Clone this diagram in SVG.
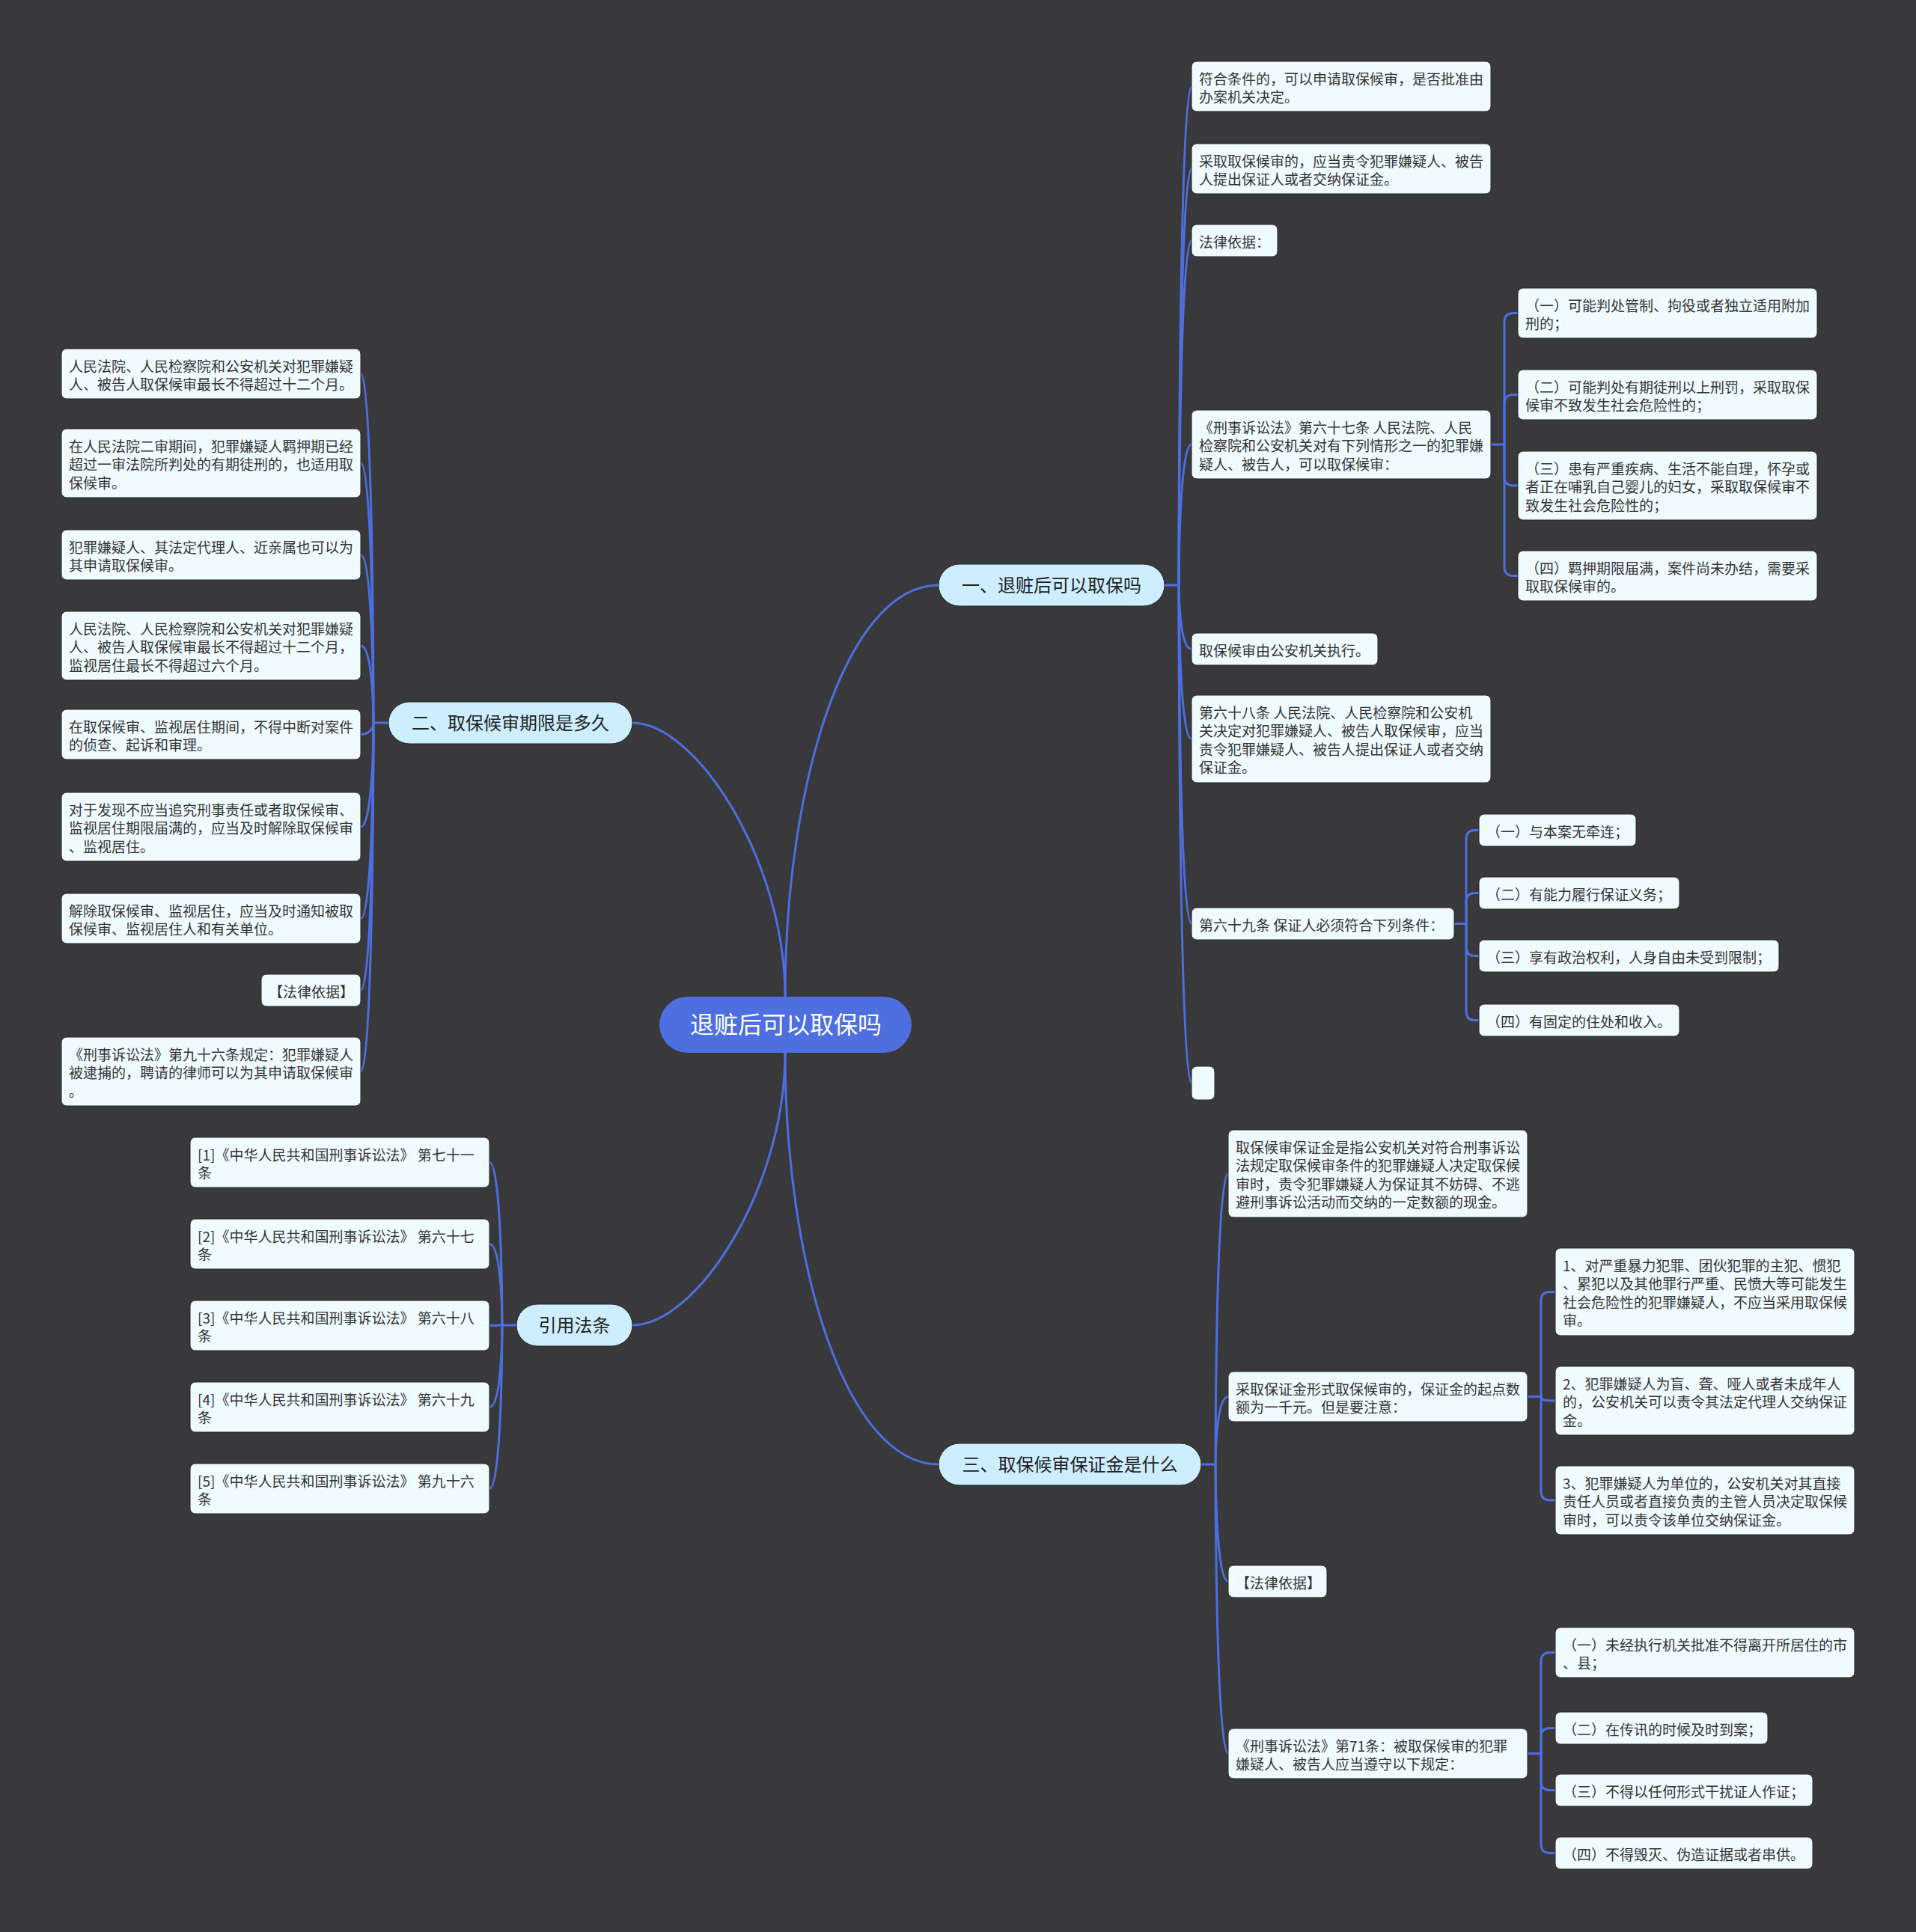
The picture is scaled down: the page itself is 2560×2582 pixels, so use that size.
<svg xmlns="http://www.w3.org/2000/svg" width="2560" height="2582" viewBox="0 0 2560 2582">
<style>
.bg{fill:#39383b}
.c{fill:none;stroke:#4d6fe0;stroke-width:3;stroke-linecap:round}
.leaf{fill:#f0fbff;stroke:#262626;stroke-width:1}
.br{fill:#cdeefe;stroke:#262626;stroke-width:1}
.root{fill:#4d6fe0}
.t{font-family:"Noto Sans CJK SC","Noto Sans",sans-serif;font-size:19px;fill:#333}
.bt{font-family:"Noto Sans CJK SC","Noto Sans",sans-serif;font-size:24px;fill:#222;text-anchor:middle}
.rt{font-family:"Noto Sans CJK SC","Noto Sans",sans-serif;font-size:32px;fill:#fff;text-anchor:middle}
</style>
<rect class="bg" x="0" y="0" width="2560" height="2582"/>
<g id="connectors">
<path class="c" d="M1049,1332 C1049,1050 1130,782 1254,782"/>
<path class="c" d="M1049,1332 C1049,1150 930,966 845,966"/>
<path class="c" d="M1049,1407 C1049,1590 930,1771 845,1771"/>
<path class="c" d="M1049,1407 C1049,1690 1130,1957 1254,1957"/>
<path class="c" d="M1556,782 H1575"/>
<path class="c" d="M1575,782 C1575,782 1575,115.5 1592,115.5"/>
<path class="c" d="M1575,782 C1575,782 1575,225.5 1592,225.5"/>
<path class="c" d="M1575,782 C1575,782 1575,321.5 1592,321.5"/>
<path class="c" d="M1575,782 C1575,782 1575,594 1592,594"/>
<path class="c" d="M1575,782 C1575,782 1575,867.5 1592,867.5"/>
<path class="c" d="M1575,782 C1575,782 1575,987.5 1592,987.5"/>
<path class="c" d="M1575,782 C1575,782 1575,1234.5 1592,1234.5"/>
<path class="c" d="M1575,782 C1575,782 1575,1447.5 1592,1447.5"/>
<path class="c" d="M1992,594 H2010"/>
<path class="c" d="M2010,594 V430.5 Q2010,418.5 2022,418.5 H2028"/>
<path class="c" d="M2010,594 V539.5 Q2010,527.5 2022,527.5 H2028"/>
<path class="c" d="M2010,594 V637 Q2010,649 2022,649 H2028"/>
<path class="c" d="M2010,594 V757.5 Q2010,769.5 2022,769.5 H2028"/>
<path class="c" d="M1943,1234.5 H1959"/>
<path class="c" d="M1959,1234.5 V1121.5 Q1959,1109.5 1971,1109.5 H1976"/>
<path class="c" d="M1959,1234.5 V1205.5 Q1959,1193.5 1971,1193.5 H1976"/>
<path class="c" d="M1959,1234.5 V1265.5 Q1959,1277.5 1971,1277.5 H1976"/>
<path class="c" d="M1959,1234.5 V1351.5 Q1959,1363.5 1971,1363.5 H1976"/>
<path class="c" d="M519,966 H499"/>
<path class="c" d="M499,966 C499,966 499,499.5 482,499.5"/>
<path class="c" d="M499,966 C499,966 499,619 482,619"/>
<path class="c" d="M499,966 C499,966 499,741.5 482,741.5"/>
<path class="c" d="M499,966 C499,966 499,863 482,863"/>
<path class="c" d="M499,966 C499,966 499,981.5 482,981.5"/>
<path class="c" d="M499,966 C499,966 499,1105 482,1105"/>
<path class="c" d="M499,966 C499,966 499,1227.5 482,1227.5"/>
<path class="c" d="M499,966 C499,966 499,1323.5 482,1323.5"/>
<path class="c" d="M499,966 C499,966 499,1432 482,1432"/>
<path class="c" d="M690,1771 H671"/>
<path class="c" d="M671,1771 C671,1771 671,1553.5 654,1553.5"/>
<path class="c" d="M671,1771 C671,1771 671,1662.5 654,1662.5"/>
<path class="c" d="M671,1771 L654,1771.5"/>
<path class="c" d="M671,1771 C671,1771 671,1880.5 654,1880.5"/>
<path class="c" d="M671,1771 C671,1771 671,1989.5 654,1989.5"/>
<path class="c" d="M1605,1957 H1624"/>
<path class="c" d="M1624,1957 C1624,1957 1624,1568.5 1641,1568.5"/>
<path class="c" d="M1624,1957 C1624,1957 1624,1866.5 1641,1866.5"/>
<path class="c" d="M1624,1957 C1624,1957 1624,2113.5 1641,2113.5"/>
<path class="c" d="M1624,1957 C1624,1957 1624,2343.5 1641,2343.5"/>
<path class="c" d="M2041,1866.5 H2059"/>
<path class="c" d="M2059,1866.5 V1738.5 Q2059,1726.5 2071,1726.5 H2078"/>
<path class="c" d="M2059,1866.5 C2059,1872 2065,1872 2078,1872"/>
<path class="c" d="M2059,1866.5 V1993 Q2059,2005 2071,2005 H2078"/>
<path class="c" d="M2041,2343.5 H2059"/>
<path class="c" d="M2059,2343.5 V2220.5 Q2059,2208.5 2071,2208.5 H2078"/>
<path class="c" d="M2059,2343.5 V2321.5 Q2059,2309.5 2071,2309.5 H2078"/>
<path class="c" d="M2059,2343.5 V2380.5 Q2059,2392.5 2071,2392.5 H2078"/>
<path class="c" d="M2059,2343.5 V2464.5 Q2059,2476.5 2071,2476.5 H2078"/>
</g>

<g id="root"><rect class="root" x="881" y="1332" width="337" height="75" rx="37.5"/><text class="rt" x="1050" y="1381">退赃后可以取保吗</text></g>

<g id="b1"><rect class="br" x="1254" y="754" width="302" height="56" rx="28"/><text class="bt" x="1405" y="791">一、退赃后可以取保吗</text></g>
<g id="b2"><rect class="br" x="519" y="938" width="326" height="56" rx="28"/><text class="bt" x="682" y="975">二、取保候审期限是多久</text></g>
<g id="b3"><rect class="br" x="690" y="1743" width="155" height="56" rx="28"/><text class="bt" x="767.5" y="1780">引用法条</text></g>
<g id="b4"><rect class="br" x="1254" y="1929" width="351" height="56" rx="28"/><text class="bt" x="1429.5" y="1966">三、取保候审保证金是什么</text></g>

<g id="n1-1"><rect class="leaf" x="1592" y="82" width="400" height="67" rx="7"/><text class="t" x="1602" y="112.5">符合条件的，可以申请取保候审，是否批准由<tspan x="1602" dy="24.5">办案机关决定。</tspan></text></g>
<g id="n1-2"><rect class="leaf" x="1592" y="192" width="400" height="67" rx="7"/><text class="t" x="1602" y="222.5">采取取保候审的，应当责令犯罪嫌疑人、被告<tspan x="1602" dy="24.5">人提出保证人或者交纳保证金。</tspan></text></g>
<g id="n1-3"><rect class="leaf" x="1592" y="300" width="115" height="43" rx="7"/><text class="t" x="1602" y="330.5">法律依据：</text></g>
<g id="n1-4"><rect class="leaf" x="1592" y="548" width="400" height="92" rx="7"/><text class="t" x="1602" y="578.5">《刑事诉讼法》第六十七条 人民法院、人民<tspan x="1602" dy="24.5">检察院和公安机关对有下列情形之一的犯罪嫌</tspan><tspan x="1602" dy="24.5">疑人、被告人，可以取保候审：</tspan></text></g>
<g id="n1-5"><rect class="leaf" x="1592" y="846" width="249" height="43" rx="7"/><text class="t" x="1602" y="876.5">取保候审由公安机关执行。</text></g>
<g id="n1-6"><rect class="leaf" x="1592" y="929" width="400" height="117" rx="7"/><text class="t" x="1602" y="959.5">第六十八条 人民法院、人民检察院和公安机<tspan x="1602" dy="24.5">关决定对犯罪嫌疑人、被告人取保候审，应当</tspan><tspan x="1602" dy="24.5">责令犯罪嫌疑人、被告人提出保证人或者交纳</tspan><tspan x="1602" dy="24.5">保证金。</tspan></text></g>
<g id="n1-7"><rect class="leaf" x="1592" y="1213" width="351" height="43" rx="7"/><text class="t" x="1602" y="1243.5">第六十九条 保证人必须符合下列条件：</text></g>
<g id="n1-8"><rect class="leaf" x="1592" y="1425" width="31" height="45" rx="7"/></g>

<g id="n1-4-1"><rect class="leaf" x="2028" y="385" width="400" height="67" rx="7"/><text class="t" x="2038" y="415.5">（一）可能判处管制、拘役或者独立适用附加<tspan x="2038" dy="24.5">刑的；</tspan></text></g>
<g id="n1-4-2"><rect class="leaf" x="2028" y="494" width="400" height="67" rx="7"/><text class="t" x="2038" y="524.5">（二）可能判处有期徒刑以上刑罚，采取取保<tspan x="2038" dy="24.5">候审不致发生社会危险性的；</tspan></text></g>
<g id="n1-4-3"><rect class="leaf" x="2028" y="603" width="400" height="92" rx="7"/><text class="t" x="2038" y="633.5">（三）患有严重疾病、生活不能自理，怀孕或<tspan x="2038" dy="24.5">者正在哺乳自己婴儿的妇女，采取取保候审不</tspan><tspan x="2038" dy="24.5">致发生社会危险性的；</tspan></text></g>
<g id="n1-4-4"><rect class="leaf" x="2028" y="736" width="400" height="67" rx="7"/><text class="t" x="2038" y="766.5">（四）羁押期限届满，案件尚未办结，需要采<tspan x="2038" dy="24.5">取取保候审的。</tspan></text></g>

<g id="n1-7-1"><rect class="leaf" x="1976" y="1088" width="210" height="43" rx="7"/><text class="t" x="1986" y="1118.5">（一）与本案无牵连；</text></g>
<g id="n1-7-2"><rect class="leaf" x="1976" y="1172" width="268" height="43" rx="7"/><text class="t" x="1986" y="1202.5">（二）有能力履行保证义务；</text></g>
<g id="n1-7-3"><rect class="leaf" x="1976" y="1256" width="401" height="43" rx="7"/><text class="t" x="1986" y="1286.5">（三）享有政治权利，人身自由未受到限制；</text></g>
<g id="n1-7-4"><rect class="leaf" x="1976" y="1342" width="268" height="43" rx="7"/><text class="t" x="1986" y="1372.5">（四）有固定的住处和收入。</text></g>

<g id="n2-1"><rect class="leaf" x="82" y="466" width="400" height="67" rx="7"/><text class="t" x="92" y="496.5">人民法院、人民检察院和公安机关对犯罪嫌疑<tspan x="92" dy="24.5">人、被告人取保候审最长不得超过十二个月。</tspan></text></g>
<g id="n2-2"><rect class="leaf" x="82" y="573" width="400" height="92" rx="7"/><text class="t" x="92" y="603.5">在人民法院二审期间，犯罪嫌疑人羁押期已经<tspan x="92" dy="24.5">超过一审法院所判处的有期徒刑的，也适用取</tspan><tspan x="92" dy="24.5">保候审。</tspan></text></g>
<g id="n2-3"><rect class="leaf" x="82" y="708" width="400" height="67" rx="7"/><text class="t" x="92" y="738.5">犯罪嫌疑人、其法定代理人、近亲属也可以为<tspan x="92" dy="24.5">其申请取保候审。</tspan></text></g>
<g id="n2-4"><rect class="leaf" x="82" y="817" width="400" height="92" rx="7"/><text class="t" x="92" y="847.5">人民法院、人民检察院和公安机关对犯罪嫌疑<tspan x="92" dy="24.5">人、被告人取保候审最长不得超过十二个月，</tspan><tspan x="92" dy="24.5">监视居住最长不得超过六个月。</tspan></text></g>
<g id="n2-5"><rect class="leaf" x="82" y="948" width="400" height="67" rx="7"/><text class="t" x="92" y="978.5">在取保候审、监视居住期间，不得中断对案件<tspan x="92" dy="24.5">的侦查、起诉和审理。</tspan></text></g>
<g id="n2-6"><rect class="leaf" x="82" y="1059" width="400" height="92" rx="7"/><text class="t" x="92" y="1089.5">对于发现不应当追究刑事责任或者取保候审、<tspan x="92" dy="24.5">监视居住期限届满的，应当及时解除取保候审</tspan><tspan x="92" dy="24.5">、监视居住。</tspan></text></g>
<g id="n2-7"><rect class="leaf" x="82" y="1194" width="400" height="67" rx="7"/><text class="t" x="92" y="1224.5">解除取保候审、监视居住，应当及时通知被取<tspan x="92" dy="24.5">保候审、监视居住人和有关单位。</tspan></text></g>
<g id="n2-8"><rect class="leaf" x="349" y="1302" width="133" height="43" rx="7"/><text class="t" x="359" y="1332.5">【法律依据】</text></g>
<g id="n2-9"><rect class="leaf" x="82" y="1386" width="400" height="92" rx="7"/><text class="t" x="92" y="1416.5">《刑事诉讼法》第九十六条规定：犯罪嫌疑人<tspan x="92" dy="24.5">被逮捕的，聘请的律师可以为其申请取保候审</tspan><tspan x="92" dy="24.5">。</tspan></text></g>

<g id="n3-1"><rect class="leaf" x="254" y="1520" width="400" height="67" rx="7"/><text class="t" x="264" y="1550.5">[1]《中华人民共和国刑事诉讼法》 第七十一<tspan x="264" dy="24.5">条</tspan></text></g>
<g id="n3-2"><rect class="leaf" x="254" y="1629" width="400" height="67" rx="7"/><text class="t" x="264" y="1659.5">[2]《中华人民共和国刑事诉讼法》 第六十七<tspan x="264" dy="24.5">条</tspan></text></g>
<g id="n3-3"><rect class="leaf" x="254" y="1738" width="400" height="67" rx="7"/><text class="t" x="264" y="1768.5">[3]《中华人民共和国刑事诉讼法》 第六十八<tspan x="264" dy="24.5">条</tspan></text></g>
<g id="n3-4"><rect class="leaf" x="254" y="1847" width="400" height="67" rx="7"/><text class="t" x="264" y="1877.5">[4]《中华人民共和国刑事诉讼法》 第六十九<tspan x="264" dy="24.5">条</tspan></text></g>
<g id="n3-5"><rect class="leaf" x="254" y="1956" width="400" height="67" rx="7"/><text class="t" x="264" y="1986.5">[5]《中华人民共和国刑事诉讼法》 第九十六<tspan x="264" dy="24.5">条</tspan></text></g>

<g id="n4-1"><rect class="leaf" x="1641" y="1510" width="400" height="117" rx="7"/><text class="t" x="1651" y="1540.5">取保候审保证金是指公安机关对符合刑事诉讼<tspan x="1651" dy="24.5">法规定取保候审条件的犯罪嫌疑人决定取保候</tspan><tspan x="1651" dy="24.5">审时，责令犯罪嫌疑人为保证其不妨碍、不逃</tspan><tspan x="1651" dy="24.5">避刑事诉讼活动而交纳的一定数额的现金。</tspan></text></g>
<g id="n4-2"><rect class="leaf" x="1641" y="1833" width="400" height="67" rx="7"/><text class="t" x="1651" y="1863.5">采取保证金形式取保候审的，保证金的起点数<tspan x="1651" dy="24.5">额为一千元。但是要注意：</tspan></text></g>
<g id="n4-3"><rect class="leaf" x="1641" y="2092" width="132" height="43" rx="7"/><text class="t" x="1651" y="2122.5">【法律依据】</text></g>
<g id="n4-4"><rect class="leaf" x="1641" y="2310" width="400" height="67" rx="7"/><text class="t" x="1651" y="2340.5">《刑事诉讼法》第71条：被取保候审的犯罪<tspan x="1651" dy="24.5">嫌疑人、被告人应当遵守以下规定：</tspan></text></g>

<g id="n4-2-1"><rect class="leaf" x="2078" y="1668" width="400" height="117" rx="7"/><text class="t" x="2088" y="1698.5">1、对严重暴力犯罪、团伙犯罪的主犯、惯犯<tspan x="2088" dy="24.5">、累犯以及其他罪行严重、民愤大等可能发生</tspan><tspan x="2088" dy="24.5">社会危险性的犯罪嫌疑人，不应当采用取保候</tspan><tspan x="2088" dy="24.5">审。</tspan></text></g>
<g id="n4-2-2"><rect class="leaf" x="2078" y="1826" width="400" height="92" rx="7"/><text class="t" x="2088" y="1856.5">2、犯罪嫌疑人为盲、聋、哑人或者未成年人<tspan x="2088" dy="24.5">的，公安机关可以责令其法定代理人交纳保证</tspan><tspan x="2088" dy="24.5">金。</tspan></text></g>
<g id="n4-2-3"><rect class="leaf" x="2078" y="1959" width="400" height="92" rx="7"/><text class="t" x="2088" y="1989.5">3、犯罪嫌疑人为单位的，公安机关对其直接<tspan x="2088" dy="24.5">责任人员或者直接负责的主管人员决定取保候</tspan><tspan x="2088" dy="24.5">审时，可以责令该单位交纳保证金。</tspan></text></g>

<g id="n4-4-1"><rect class="leaf" x="2078" y="2175" width="400" height="67" rx="7"/><text class="t" x="2088" y="2205.5">（一）未经执行机关批准不得离开所居住的市<tspan x="2088" dy="24.5">、县；</tspan></text></g>
<g id="n4-4-2"><rect class="leaf" x="2078" y="2288" width="284" height="43" rx="7"/><text class="t" x="2088" y="2318.5">（二）在传讯的时候及时到案；</text></g>
<g id="n4-4-3"><rect class="leaf" x="2078" y="2371" width="344" height="43" rx="7"/><text class="t" x="2088" y="2401.5">（三）不得以任何形式干扰证人作证；</text></g>
<g id="n4-4-4"><rect class="leaf" x="2078" y="2455" width="344" height="43" rx="7"/><text class="t" x="2088" y="2485.5">（四）不得毁灭、伪造证据或者串供。</text></g>
</svg>
